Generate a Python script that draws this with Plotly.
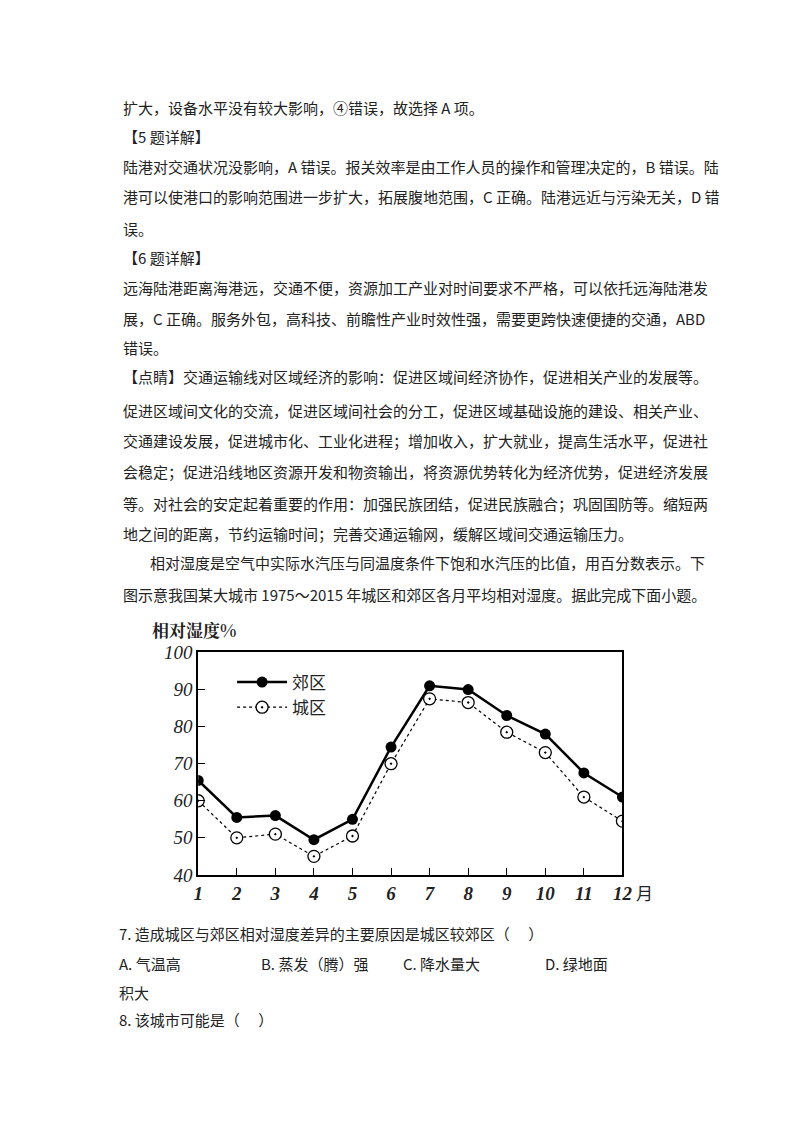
import plotly.graph_objects as go

months = list(range(1, 13))
suburb = [65.5, 55.5, 56, 49.5, 55, 74.5, 91, 90, 83, 78, 67.5, 61]
urban = [60, 50, 51, 45, 50.5, 70, 87.5, 86.5, 78.5, 73, 61, 54.5]
yticks = [40, 50, 60, 70, 80, 90, 100]

lines = [
    (118, 109, "扩大，设备水平没有较大影响，④错误，故选择 A 项。"),
    (118, 138, "【5 题详解】"),
    (118, 168, "陆港对交通状况没影响，A 错误。报关效率是由工作人员的操作和管理决定的，B 错误。陆"),
    (118, 198, "港可以使港口的影响范围进一步扩大，拓展腹地范围，C 正确。陆港远近与污染无关，D 错"),
    (118, 230, "误。"),
    (118, 258, "【6 题详解】"),
    (118, 288, "远海陆港距离海港远，交通不便，资源加工产业对时间要求不严格，可以依托远海陆港发"),
    (118, 319, "展，C 正确。服务外包，高科技、前瞻性产业时效性强，需要更跨快速便捷的交通，ABD"),
    (118, 348, "错误。"),
    (118, 377, "【点睛】交通运输线对区域经济的影响：促进区域间经济协作，促进相关产业的发展等。"),
    (118, 411, "促进区域间文化的交流，促进区域间社会的分工，促进区域基础设施的建设、相关产业、"),
    (118, 440, "交通建设发展，促进城市化、工业化进程；增加收入，扩大就业，提高生活水平，促进社"),
    (118, 471, "会稳定；促进沿线地区资源开发和物资输出，将资源优势转化为经济优势，促进经济发展"),
    (118, 503, "等。对社会的安定起着重要的作用：加强民族团结，促进民族融合；巩固国防等。缩短两"),
    (118, 533, "地之间的距离，节约运输时间；完善交通运输网，缓解区域间交通运输压力。"),
    (146, 562, "相对湿度是空气中实际水汽压与同温度条件下饱和水汽压的比值，用百分数表示。下"),
    (118, 593, "图示意我国某大城市 1975～2015 年城区和郊区各月平均相对湿度。据此完成下面小题。"),
    (114, 930, "7. 造成城区与郊区相对湿度差异的主要原因是城区较郊区（　 ）"),
    (114, 960, "A. 气温高"),
    (257, 960, "B. 蒸发（腾）强"),
    (400, 960, "C. 降水量大"),
    (542, 960, "D. 绿地面"),
    (114, 989, "积大"),
    (114, 1016, "8. 该城市可能是（　 ）"),
]

W, H = 784, 1116


# the page ends up slightly scaled and shifted; undo that when placing things
def px(x):
    return (x - 10) / 0.985 / W


def py(y):
    return 1 - (y - 20.5) / 0.975 / H


fig = go.Figure()
fig.add_trace(go.Scatter(x=months, y=suburb, name="郊区", mode="lines+markers",
                         line=dict(color="black", width=2.5),
                         marker=dict(symbol="circle", size=11, color="black")))
fig.add_trace(go.Scatter(x=months, y=urban, name="城区", mode="lines+markers",
                         line=dict(color="black", width=1.2, dash="dot"),
                         marker=dict(symbol="circle-dot", size=12, color="white",
                                     line=dict(color="black", width=1.3))))

ann = []
for x, y, t in lines:
    ann.append(dict(x=px(x), y=py(y), xref="paper", yref="paper", text=t,
                    showarrow=False, xanchor="left", yanchor="middle",
                    font=dict(family="Noto Sans CJK SC", size=15, color="#222")))
ann.append(dict(x=px(148), y=py(628), xref="paper", yref="paper", text="<b>相对湿度%</b>",
                showarrow=False, xanchor="left", yanchor="middle",
                font=dict(family="Noto Serif CJK SC, Noto Sans CJK SC", size=17, color="#222")))
ann.append(dict(x=px(634), y=py(889), xref="paper", yref="paper", text="月",
                showarrow=False, xanchor="left", yanchor="middle",
                font=dict(family="Noto Sans CJK SC", size=17, color="#222")))

fig.update_layout(
    width=W, height=H, margin=dict(l=0, r=0, t=0, b=0),
    plot_bgcolor="white", paper_bgcolor="white", annotations=ann,
    legend=dict(x=px(230), y=py(663), xanchor="left", yanchor="top",
                bgcolor="rgba(0,0,0,0)", itemwidth=50,
                font=dict(family="Noto Sans CJK SC", size=17, color="#222")),
    xaxis=dict(domain=[px(196), px(622)], range=[1, 12], tickvals=months,
               ticks="inside", ticklen=7, tickcolor="black", showgrid=False, zeroline=False,
               showline=True, linecolor="black", linewidth=2, mirror=True,
               tickfont=dict(family="Liberation Serif", size=19, color="#222",
                             style="italic", weight="bold")),
    yaxis=dict(domain=[py(872), py(651)], range=[40, 100], tickvals=yticks,
               ticks="inside", ticklen=7, tickcolor="black", showgrid=False, zeroline=False,
               showline=True, linecolor="black", linewidth=2, mirror=True,
               tickfont=dict(family="Liberation Serif", size=19, color="#222", style="italic")),
)
fig.write_html("out.html")
